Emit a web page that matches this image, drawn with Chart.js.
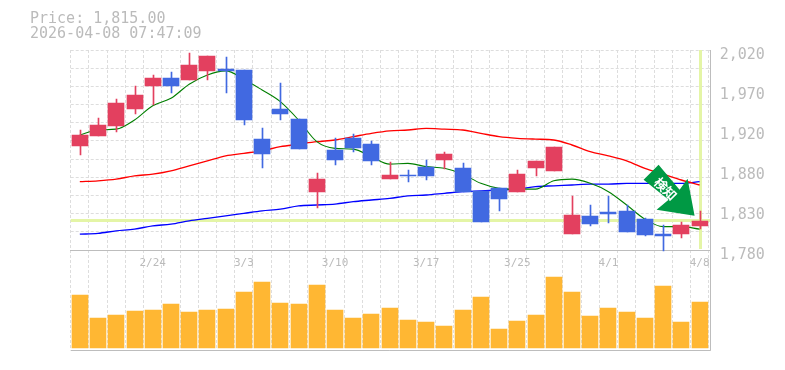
<!DOCTYPE html>
<html>
<head>
<meta charset="utf-8">
<style>
  html, body { margin: 0; padding: 0; background: #fff; }
  canvas { display: block; }
</style>
<script src="https://cdn.jsdelivr.net/npm/chart.js@4"></script>
</head>
<body>
<canvas id="chart" width="785" height="370"></canvas>
<script>
const titleLines = ['Price: 1,815.00', '2026-04-08 07:47:09'];
const noticeText = '検知';

const dates = ['2/18','2/19','2/20','2/21','2/24','2/25','2/26','2/27','2/28','3/3','3/4','3/5','3/6','3/7','3/10','3/11','3/12','3/13','3/14','3/17','3/18','3/19','3/21','3/24','3/25','3/26','3/27','3/28','3/31','4/1','4/2','4/3','4/4','4/7','4/8'];
const dateTicks = ['2/24','3/3','3/10','3/17','3/25','4/1','4/8'];

const opens  = [1905,1917,1929,1949,1977,1986,1984,1995,1997,1996,1913,1949,1937,1850,1900,1914,1907,1865,1870,1880,1888,1878,1851,1854,1850,1878,1875,1799,1821,1826,1827,1817,1799,1799,1809];
const closes = [1918,1930,1956,1966,1986,1977,2002,2013,1995,1936,1895,1943,1901,1865,1888,1902,1887,1870,1869,1869,1895,1850,1814,1841,1871,1887,1904,1822,1811,1823,1802,1798,1797,1810,1815];
const highs  = [1924,1938,1961,1977,1990,1994,2016,2013,2012,1996,1926,1980,1937,1872,1914,1919,1911,1886,1876,1888,1898,1884,1851,1854,1876,1887,1904,1845,1834,1845,1834,1818,1810,1814,1827];
const lows   = [1894,1917,1922,1943,1954,1968,1984,1984,1968,1930,1878,1936,1901,1830,1882,1898,1882,1865,1862,1864,1877,1850,1814,1827,1850,1869,1875,1799,1809,1812,1802,1797,1779,1794,1805];

const maShort = [1918,1924,1925,1936,1953,1962,1979,1990,1995,1985,1972,1958,1936,1910,1902,1901,1892,1883,1884,1880,1878,1871,1860,1854,1853,1853,1863,1865,1860,1850,1834,1817,1808,1808,1805];
const maMid   = [1862,1863,1865,1869,1871,1875,1881,1887,1893,1896,1899,1904,1907,1910,1912,1916,1920,1923,1924,1926,1925,1924,1920,1916,1914,1913,1912,1906,1898,1893,1887,1878,1871,1864,1858];
const maLong  = [1799,1800,1803,1805,1809,1811,1815,1818,1821,1824,1827,1829,1833,1834,1835,1838,1840,1842,1845,1846,1848,1850,1851,1852,1853,1856,1857,1858,1859,1859,1860,1860,1860,1860,1862];

const volumes = [530,300,330,370,380,440,360,380,390,560,660,450,440,630,380,300,340,400,280,260,220,380,510,190,270,330,710,560,320,400,360,300,620,260,460];

const gridTicks = [1780,1801.8,1823.6,1845.5,1867.3,1889.1,1910.9,1932.7,1954.5,1976.4,1998.2,2020];
const priceTicks = [1780,1828,1876,1924,1972,2020];
const priceLabels = ['1,780','1,830','1,880','1,920','1,970','2,020'];

const RED = '#e3405f';
const BLUE = '#4169e1';
const GRID = '#dddddd';
const FRAME = '#bdbdbd';
const TEXT = '#bbbbbb';
const MARK = '#e4f5a6';
const MONO = '"DejaVu Sans Mono", monospace';

function candleColor(ctx) {
    let i = ctx.dataIndex;
    return closes[i] >= opens[i] ? RED : BLUE;
}

// barras nitidas, sem antialias nas bordas
const snapBars = {
    id: 'snapBars',
    afterDatasetsUpdate(chart) {
        chart.data.datasets.forEach((ds, i) => {
            if (ds.type !== 'bar') return;
            chart.getDatasetMeta(i).data.forEach(el => {
                el.x = Math.round(el.x) + (ds.barThickness === 1 ? 0.5 : 0);
                el.y = Math.round(el.y);
                el.base = Math.round(el.base);
            });
        });
    }
};

// linhas do ultimo preco, atras dos candles
const lastPrice = {
    id: 'lastPrice',
    beforeDatasetsDraw(chart) {
        const { ctx, chartArea, scales } = chart;
        const last = closes.length - 1;
        const py = Math.floor(scales.y.getPixelForValue(closes[last]));
        const px = Math.round(scales.x.getPixelForValue(last));
        ctx.save();
        ctx.fillStyle = MARK;
        ctx.fillRect(chartArea.left, py - 1, chartArea.width + 2, 3);
        ctx.fillRect(px - 1, chartArea.top, 3, scales.y.getPixelForValue(1780) - chartArea.top - 1);
        ctx.restore();
    }
};

const overlay = {
    id: 'overlay',
    afterDraw(chart) {
        const { ctx, chartArea, scales } = chart;
        const right = Math.round(chartArea.right) + 1.5;
        const lineY = scales.y.getPixelForValue(1780);
        ctx.save();

        // moldura da direita
        ctx.strokeStyle = FRAME;
        ctx.lineWidth = 1;
        ctx.beginPath();
        ctx.moveTo(right, chartArea.top);
        ctx.lineTo(right, chartArea.bottom + 0.5);
        ctx.moveTo(chartArea.right, Math.round(lineY) + 0.5);
        ctx.lineTo(right, Math.round(lineY) + 0.5);
        ctx.stroke();

        // seta verde apontando pro ultimo candle
        const last = closes.length - 1;
        const tipX = scales.x.getPixelForValue(last) - 5;
        const tipY = scales.y.getPixelForValue(closes[last]) - 5;
        const shape = [[0,0],[-7,-37],[-15,-26],[-36,-51],[-51,-36],[-26,-16],[-38,-6]];
        ctx.fillStyle = '#009944';
        ctx.beginPath();
        shape.forEach((p, i) => {
            if (i === 0) ctx.moveTo(tipX + p[0], tipY + p[1]);
            else ctx.lineTo(tipX + p[0], tipY + p[1]);
        });
        ctx.closePath();
        ctx.fill();

        ctx.translate(tipX - 29, tipY - 27);
        ctx.rotate(Math.PI / 4);
        ctx.fillStyle = '#ffffff';
        ctx.font = 'bold 13px "Noto Sans CJK JP"';
        ctx.textAlign = 'center';
        ctx.textBaseline = 'middle';
        ctx.fillText(noticeText, 0, 0);
        ctx.restore();

        // titulo
        ctx.save();
        ctx.fillStyle = TEXT;
        ctx.font = '15px ' + MONO;
        ctx.textBaseline = 'alphabetic';
        ctx.fillText(titleLines[0], 30, 23);
        ctx.fillText(titleLines[1], 30, 38);
        ctx.restore();
    }
};

const lineDataset = (data, color, width, order) => ({
    type: 'line', data: data, yAxisID: 'y', borderColor: color, borderWidth: width,
    pointRadius: 0, cubicInterpolationMode: 'monotone', fill: false, order: order
});

new Chart(document.getElementById('chart'), {
    data: {
        labels: dates,
        datasets: [
            lineDataset(maLong, '#0000ff', 1.4, 6),
            lineDataset(maMid, '#ff0000', 1.4, 5),
            lineDataset(maShort, '#007f00', 1.1, 4),
            {
                type: 'bar', data: lows.map((l, i) => [l, highs[i]]), yAxisID: 'y',
                backgroundColor: candleColor, barThickness: 1, grouped: false, order: 3
            },
            {
                type: 'bar', data: opens.map((o, i) => [o, closes[i]]), yAxisID: 'y',
                backgroundColor: candleColor, barThickness: 16, grouped: false, order: 2
            },
            {
                type: 'bar', data: volumes, yAxisID: 'vol',
                backgroundColor: '#ffb733', barThickness: 16, grouped: false, order: 1
            }
        ]
    },
    options: {
        responsive: false,
        animation: false,
        events: [],
        layout: { padding: { left: 70.7, top: 50, bottom: 20, right: 0 } },
        plugins: { legend: { display: false }, tooltip: { enabled: false }, title: { display: false } },
        scales: {
            x: {
                type: 'category',
                position: { y: 1780 },
                offset: true,
                grid: { color: GRID, offset: true, drawTicks: false },
                border: { display: true, color: FRAME, dash: [3, 2] },
                ticks: {
                    autoSkip: false, maxRotation: 0, padding: 7, color: TEXT,
                    font: { family: MONO, size: 11 },
                    callback: function (v) {
                        let d = this.getLabelForValue(v);
                        return dateTicks.includes(d) ? d : '';
                    }
                }
            },
            y: {
                position: 'right',
                min: 1660, max: 2020,
                afterBuildTicks: s => { s.ticks = gridTicks.map(v => ({ value: v })); },
                afterFit: s => { s.width = 0; },
                grid: { color: GRID, tickColor: GRID, tickLength: 2 },
                border: { display: false, dash: [3, 2] },
                ticks: { display: false, autoSkip: false }
            },
            vol: {
                position: 'right',
                min: -20, max: 2980,
                afterBuildTicks: s => { s.ticks = [{ value: -20 }]; },
                afterFit: s => { s.width = 0; },
                grid: { color: FRAME, tickColor: FRAME, tickLength: 2 },
                border: { display: false },
                ticks: { display: false, autoSkip: false }
            },
            priceLabel: {
                position: 'right',
                min: 1660, max: 2020,
                afterBuildTicks: s => { s.ticks = priceTicks.map(v => ({ value: v })); },
                afterFit: s => { s.width = 76.3; },
                grid: { display: false, drawTicks: false },
                border: { display: false },
                ticks: {
                    autoSkip: false, padding: 11, labelOffset: 5, color: TEXT,
                    font: { family: MONO, size: 15 },
                    callback: v => priceLabels[priceTicks.indexOf(v)]
                }
            }
        }
    },
    plugins: [snapBars, lastPrice, overlay]
});
</script>
</body>
</html>
